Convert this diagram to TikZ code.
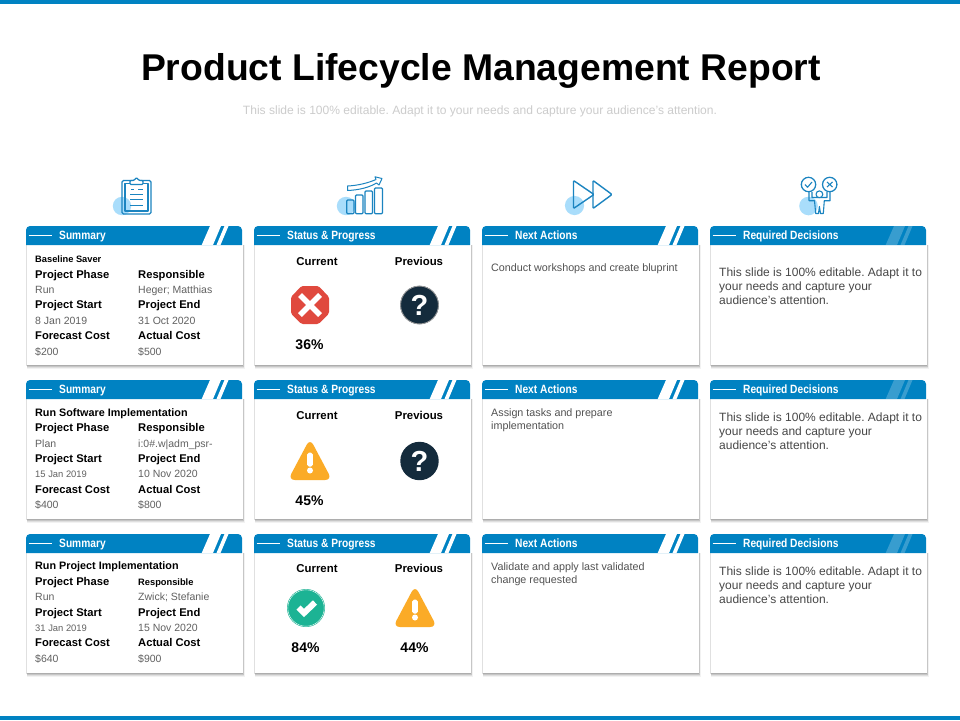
\documentclass[tikz,border=0pt]{standalone}
\usepackage{fontspec}
\setmainfont{Liberation Sans}
\newfontfamily\hdrfont[FakeStretch=0.85]{Liberation Sans Bold}
\usetikzlibrary{calc}
\definecolor{hdrblue}{HTML}{0082C2}
\definecolor{iconblue}{HTML}{1B84C0}
\definecolor{softblue}{HTML}{A9DDFB}
\definecolor{stopred}{HTML}{E0493E}
\definecolor{warnamber}{HTML}{FBAB27}
\definecolor{okgreen}{HTML}{1CB394}
\definecolor{navy}{HTML}{142B3C}
\newcommand{\fs}[1]{\fontsize{#1}{#1}\selectfont}
\tikzset{
 x=1pt,y=-1pt,
 txt/.style={inner sep=0pt,anchor=base west},
 key/.style={txt,font=\fs{11.2}\bfseries,text=black},
 keysmall/.style={txt,font=\fs{9.3}\bfseries,text=black},
 val/.style={txt,font=\fs{10.5},text=black!62},
 valsmall/.style={txt,font=\fs{9.4},text=black!62},
 head/.style={txt,font=\fs{10.8}\bfseries,text=black},
 cols/.style={inner sep=0pt,anchor=base,font=\fs{11.4}\bfseries,text=black},
 pct/.style={inner sep=0pt,anchor=base,font=\fs{14}\bfseries,text=black},
 next/.style={txt,font=\fs{10.75},text=black!68},
 req/.style={txt,font=\fs{12}\frenchspacing,text=black!72},
 hdr/.style={inner sep=0pt,anchor=base west,font=\hdrfont\fs{12},text=white},
 ico/.style={draw=iconblue,line width=1.25pt,line join=round},
 dot/.style={fill=softblue},
}
% card: x, top of header, bottom of header, bottom of card, header title, stripe fill, stripe opacity, node name
\newcommand{\card}[8]{
 \foreach \o/\p in {4/0.05,3/0.08,2/0.11,1/0.12}{
  \fill[black,opacity=\p] (#1+0.7,#3) rectangle (#1+216.5+0.6*\o,#4+\o);
 }
 \fill[black,opacity=0.12] (#1,#3) rectangle (#1+0.7,#4+1);
 \fill[white] (#1+0.7,#3-1) rectangle (#1+216.5,#4);
 \fill[hdrblue] (#1,#3) [rounded corners=4pt] -- (#1,#2) -- (#1+216,#2) [sharp corners] -- (#1+216,#3) -- cycle;
 \fill[#6,opacity=#7] (#1+184,#2) -- (#1+195,#2) -- (#1+187,#3) -- (#1+175.7,#3) -- cycle;
 \fill[#6,opacity=#7] (#1+198.5,#2) -- (#1+202.5,#2) -- (#1+194.5,#3) -- (#1+190.5,#3) -- cycle;
 \coordinate (#8a) at (#1+2.5,{(#2+#3)/2});
 \coordinate (#8b) at (#1+26,{(#2+#3)/2});
 \draw[white,line width=0.8pt] (#8a) -- (#8b);
 \node[hdr] (#8) at (#1+33,{(#2+#3)/2+4.2}) {#5};
}
% warning triangle: centre x, top y
\newcommand{\warn}[3]{
 \fill[warnamber,rounded corners=7pt] (#1,#2+38) -- (#1+22,#2+38) -- (#1,#2-3.5) -- (#1-22,#2+38) -- cycle;
 \fill[white,rounded corners=1.8pt] (#1-2.8,#2+10.5) rectangle (#1+2.8,#2+24.5);
 \fill[white] (#1,#2+28.5) circle (3);
}
\newcommand{\quest}[3]{
 \fill[navy] (#1,#2) circle (19.2);
 \node[inner sep=0pt,font=\fs{29}\bfseries,text=white] (#3) at (#1,#2) {?};
}
\newcommand{\reqtext}[4]{
 \node[req] (#4a) at (719,#1) {This slide is 100\% editable. Adapt it to};
 \node[req] (#4b) at (719,#2) {your needs and capture your};
 \node[req] (#4c) at (719,#3) {audience's attention.};
}
\begin{document}
\begin{tikzpicture}
\useasboundingbox (0,0) rectangle (960,720);
\fill[white] (0,0) rectangle (960,720);
\fill[hdrblue] (0,0) rectangle (960,4);
\fill[hdrblue] (0,716) rectangle (960,720);

\node[inner sep=0pt,anchor=base,font=\fs{37.3}\bfseries,text=black] (title) at (481,80) {Product Lifecycle Management Report};
\node[inner sep=0pt,anchor=base,font=\fs{12.05}\frenchspacing,text=black!20] (sub) at (480,114.5) {This slide is 100\% editable. Adapt it to your needs and capture your audience's attention.};

% ---- top icons
\fill[dot] (122,206) circle (9.2);
\draw[ico,rounded corners=1.5pt] (122,180.5) rectangle (151,214);
\draw[ico,line width=1.1pt] (125,183.5) rectangle (148,211);
\draw[ico,fill=white,rounded corners=1pt] (130,184.5) -- (130,180.5) -- (134,180.5) -- (136.5,177.5) -- (139,180.5) -- (143,180.5) -- (143,184.5) -- cycle;
\draw[ico,line width=0.8pt] (131,189) -- (134,189) (138,189) -- (143,189) (130,194) -- (143,194) (130,199) -- (143,199) (130,205) -- (143,205);

\fill[dot] (346,206) circle (9.2);
\foreach \a/\b/\t in {346.7/354/200,355.5/363/195,365/372.5/191,374.5/382.5/188}{
 \draw[ico,rounded corners=1pt] (\a,213.7) -- (\a,\t) -- (\b,\t) -- (\b,213.7) -- cycle;
}
\draw[ico,line width=1pt] (347.5,186) -- (347.5,190.5) .. controls (360,190) and (370,187) .. (376.5,183) -- (379,185) -- (382,178.5) -- (375,176.8) -- (376,179.5) .. controls (368,183) and (358,185.5) .. (347.5,186) -- cycle;

\fill[dot] (574.5,205.5) circle (9.6);
\draw[ico,rounded corners=1pt,line width=1.4pt] (573.5,180.5) -- (594,194.5) -- (573.5,208.5) -- cycle;
\draw[ico,rounded corners=1pt,line width=1.4pt] (593,180.5) -- (612,194.5) -- (593,208.5) -- cycle;

\fill[dot] (808.5,206) circle (9.3);
\draw[ico] (808.5,184.5) circle (7.2) (829.7,184.5) circle (7.2);
\draw[ico,line width=1.1pt] (805,184.5) -- (807.5,187.3) -- (812,182);
\draw[ico,line width=1.1pt] (827,182) -- (832.5,187) (832.5,182) -- (827,187);
\draw[ico,line width=1.1pt] (809,192) -- (809,200.7) -- (814.5,200.7) -- (815.7,213.5) -- (818.5,213.5) -- (819.4,206.5) -- (820.5,213.5) -- (823.3,213.5) -- (824.3,200.7) -- (830,200.7) -- (830,192) (827,192) -- (827,197.5) -- (812,197.5) -- (812,192);
\draw[ico,fill=white,line width=1.1pt] (819.4,194.3) circle (3.4);

% ---- row 1
\card{26}{226}{245}{365}{Summary}{white}{1}{h1a}
\card{254}{226}{245}{365}{Status \& Progress}{white}{1}{h1b}
\card{482}{226}{245}{365}{Next Actions}{white}{1}{h1c}
\card{710}{226}{245}{365}{Required Decisions}{white}{0.22}{h1d}
% ---- row 2
\card{26}{380}{399}{519}{Summary}{white}{1}{h2a}
\card{254}{380}{399}{519}{Status \& Progress}{white}{1}{h2b}
\card{482}{380}{399}{519}{Next Actions}{white}{1}{h2c}
\card{710}{380}{399}{519}{Required Decisions}{white}{0.22}{h2d}
% ---- row 3
\card{26}{534}{553}{673}{Summary}{white}{1}{h3a}
\card{254}{534}{553}{673}{Status \& Progress}{white}{1}{h3b}
\card{482}{534}{553}{673}{Next Actions}{white}{1}{h3c}
\card{710}{534}{553}{673}{Required Decisions}{white}{0.22}{h3d}

% summaries
\node[keysmall] (s1t) at (35,262) {Baseline Saver};
\node[key] (s1a) at (35,278) {Project Phase};
\node[key] (s1b) at (138,278) {Responsible};
\node[val] (s1c) at (35,293.5) {Run};
\node[val] (s1d) at (138,293.5) {Heger; Matthias};
\node[key] (s1e) at (35,308) {Project Start};
\node[key] (s1f) at (138,308) {Project End};
\node[val] (s1g) at (35,324) {8 Jan 2019};
\node[val] (s1h) at (138,324) {31 Oct 2020};
\node[key] (s1i) at (35,339) {Forecast Cost};
\node[key] (s1j) at (138,339) {Actual Cost};
\node[val] (s1k) at (35,355) {\$200};
\node[val] (s1l) at (138,355) {\$500};

\node[head] (s2t) at (35,416) {Run Software Implementation};
\node[key] (s2a) at (35,431.5) {Project Phase};
\node[key] (s2b) at (138,431.5) {Responsible};
\node[val] (s2c) at (35,447) {Plan};
\node[val] (s2d) at (138,447) {i:0\#.w|adm\_psr-};
\node[key] (s2e) at (35,462) {Project Start};
\node[key] (s2f) at (138,462) {Project End};
\node[valsmall] (s2g) at (35,477.5) {15 Jan 2019};
\node[val] (s2h) at (138,477.5) {10 Nov 2020};
\node[key] (s2i) at (35,493) {Forecast Cost};
\node[key] (s2j) at (138,493) {Actual Cost};
\node[val] (s2k) at (35,508) {\$400};
\node[val] (s2l) at (138,508) {\$800};

\node[head] (s3t) at (35,569) {Run Project Implementation};
\node[key] (s3a) at (35,585) {Project Phase};
\node[keysmall] (s3b) at (138,585) {Responsible};
\node[val] (s3c) at (35,600) {Run};
\node[val] (s3d) at (138,600) {Zwick; Stefanie};
\node[key] (s3e) at (35,616) {Project Start};
\node[key] (s3f) at (138,616) {Project End};
\node[valsmall] (s3g) at (35,631) {31 Jan 2019};
\node[val] (s3h) at (138,631) {15 Nov 2020};
\node[key] (s3i) at (35,646) {Forecast Cost};
\node[key] (s3j) at (138,646) {Actual Cost};
\node[val] (s3k) at (35,662) {\$640};
\node[val] (s3l) at (138,662) {\$900};

% status
\node[cols] (c1) at (317,265) {Current};
\node[cols] (p1) at (419,265) {Previous};
\node[cols] (c2) at (317,419) {Current};
\node[cols] (p2) at (419,419) {Previous};
\node[cols] (c3) at (317,572) {Current};
\node[cols] (p3) at (419,572) {Previous};
\node[pct] (v1) at (309.5,349) {36\%};
\node[pct] (v2) at (309.5,505) {45\%};
\node[pct] (v3) at (305.5,652) {84\%};
\node[pct] (v4) at (414.5,652) {44\%};

% stop sign
\fill[stopred,rounded corners=1.5pt] (310,286) -- (318.5,286) -- (329,297) -- (329,313.5) -- (318.5,324) -- (301.5,324) -- (291,313.5) -- (291,297) -- (301.5,286) -- cycle;
\draw[white,line width=5.6pt] (300,295) -- (320,315) (320,295) -- (300,315);
\quest{419.5}{305}{q1}
\draw[black!40,line width=0.8pt] (419.5,305) circle (18.9);
\warn{310}{442}{w1}
\quest{419.5}{461}{q2}
% check badge
\fill[okgreen] (306,608) circle (19);
\draw[white,line width=0.4pt] (306,608) circle (18.2);
\draw[white,line width=6pt] (298.5,607.5) -- (304,613) -- (315,602.5);
\warn{415}{589}{w2}

% next actions
\node[next] (n1) at (491,271) {Conduct workshops and create bluprint};
\node[next] (n2a) at (491,416) {Assign tasks and prepare};
\node[next] (n2b) at (491,429) {implementation};
\node[next] (n3a) at (491,570) {Validate and apply last validated};
\node[next] (n3b) at (491,583) {change requested};

% required
\reqtext{276}{290}{304}{r1}
\reqtext{421}{435}{449}{r2}
\reqtext{575}{589}{603}{r3}
\end{tikzpicture}
\end{document}
